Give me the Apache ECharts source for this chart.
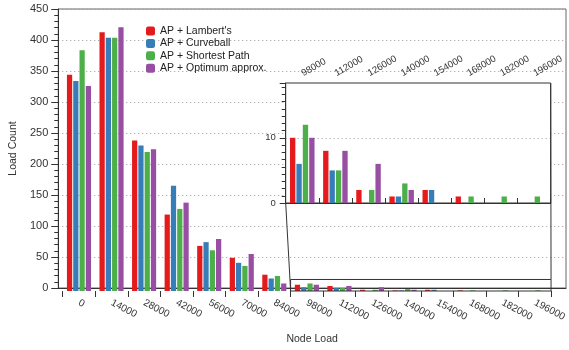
<!DOCTYPE html>
<html>
<head>
<meta charset="utf-8">
<script src="https://cdn.jsdelivr.net/npm/echarts@6/dist/echarts.min.js"></script>
<style>html,body{margin:0;padding:0;background:#fff}#c{width:569px;height:350px}</style>
</head>
<body>
<div id="c"></div>
<script>
const categories = ['0','14000','28000','42000','56000','70000','84000','98000','112000','126000','140000','154000','168000','182000','196000'];
const seriesNames = ["AP + Lambert's", 'AP + Curveball', 'AP + Shortest Path', 'AP + Optimum approx.'];
const lambert   = [345, 413, 240, 122, 72, 53, 26, 10, 8, 2, 1, 2, 1, 0, 0];
const curveball = [335, 404, 232, 168, 78, 45, 20, 6, 5, 0, 1, 2, 0, 0, 0];
const shortest  = [384, 404, 222, 131, 65, 40, 24, 12, 5, 2, 3, 0, 1, 1, 1];
const optimum   = [327, 421, 226, 141, 83, 59, 12, 10, 8, 6, 2, 0, 0, 0, 0];
const insetStart = 7;
const insetCategories = categories.slice(insetStart);
const mainMax = 450, mainInterval = 50;
const insetMax = 18.4, insetInterval = 10;
const colors = ['#e41a1c', '#377eb8', '#4daf4a', '#984ea3'];
const allData = [lambert, curveball, shortest, optimum];

const FONT = 'Liberation Sans, Arial, sans-serif';
const TXT = '#333';
const AX = '#333';
const GRIDLINE = {color: '#999', type: [1, 3], width: 1};

const chart = echarts.init(document.getElementById('c'), null, {renderer: 'canvas'});

const series = [];
allData.forEach((d, i) => {
  series.push({
    name: seriesNames[i], type: 'bar', xAxisIndex: 0, yAxisIndex: 0,
    data: d, itemStyle: {color: colors[i]},
    barCategoryGap: '26%', barGap: '20%', animation: false
  });
});
allData.forEach((d, i) => {
  series.push({
    name: seriesNames[i], type: 'bar', xAxisIndex: 2, yAxisIndex: 2,
    data: d.slice(insetStart), itemStyle: {color: colors[i]},
    barCategoryGap: '26%', barGap: '20%', z: 8, animation: false
  });
});

const option = {
  animation: false,
  color: colors,
  textStyle: {fontFamily: FONT},
  legend: {
    orient: 'vertical', left: 141, top: 20,
    icon: 'roundRect', itemWidth: 9, itemHeight: 9, itemGap: 0.4,
    textStyle: {fontFamily: FONT, fontSize: 10.5, color: '#222', lineHeight: 12},
    data: seriesNames
  },
  grid: [
    {left: 62.7, right: 10.7, top: 9, bottom: 59},
    {left: 55, right: 3, top: 9, bottom: 59, show: true, borderColor: '#666', borderWidth: 1, backgroundColor: 'transparent'},
    {left: 285.7, right: 18.3, top: 83, bottom: 147, show: true, borderColor: '#333', borderWidth: 1, backgroundColor: '#fff', z: 5}
  ],
  xAxis: [
    {
      type: 'category', gridIndex: 0, data: categories, boundaryGap: true,
      axisLine: {show: false},
      axisTick: {show: true, alignWithLabel: false, length: 6, lineStyle: {color: AX}},
      axisLabel: {interval: 0, rotate: -28, margin: 11, fontSize: 10, color: TXT, fontFamily: FONT},
      splitLine: {show: false}
    },
    {
      type: 'value', gridIndex: 1, min: 0, max: 1,
      axisLine: {show: true, lineStyle: {color: AX}},
      axisTick: {show: false}, axisLabel: {show: false}, splitLine: {show: false},
      name: 'Node Load', nameLocation: 'middle', nameGap: 46,
      nameTextStyle: {fontSize: 10.5, color: TXT, fontFamily: FONT}
    },
    {
      type: 'category', gridIndex: 2, data: insetCategories, position: 'top', boundaryGap: true, z: 6,
      axisLine: {show: true, lineStyle: {color: AX}},
      axisTick: {show: true, length: 5, lineStyle: {color: AX}},
      axisLabel: {interval: 0, rotate: 30, margin: 9, fontSize: 9.5, color: TXT, fontFamily: FONT},
      splitLine: {show: false}
    }
  ],
  yAxis: [
    {type: 'value', gridIndex: 0, min: 0, max: mainMax, interval: mainInterval, show: false},
    {
      type: 'value', gridIndex: 1, min: 0, max: mainMax, interval: mainInterval,
      axisLine: {show: true, lineStyle: {color: AX}},
      axisTick: {show: true, length: 7, lineStyle: {color: AX}},
      minorTick: {show: true, splitNumber: 5, length: 4, lineStyle: {color: AX}},
      axisLabel: {fontSize: 11, color: TXT, margin: 10, fontFamily: FONT},
      splitLine: {show: true, lineStyle: GRIDLINE},
      name: 'Load Count', nameLocation: 'middle', nameGap: 36,
      nameTextStyle: {fontSize: 10.5, color: TXT, fontFamily: FONT}
    },
    {
      type: 'value', gridIndex: 2, min: 0, max: insetMax, interval: insetInterval, z: 6,
      axisLine: {show: true, lineStyle: {color: AX}},
      axisTick: {show: true, length: 6, lineStyle: {color: AX}},
      minorTick: {show: true, splitNumber: 9, length: 4, lineStyle: {color: AX}},
      axisLabel: {fontSize: 9.5, color: TXT, margin: 10, fontFamily: FONT, showMaxLabel: false},
      splitLine: {show: true, lineStyle: GRIDLINE}
    }
  ],
  series: series
};
chart.setOption(option);

function px(axisIndex, cat) { return chart.convertToPixel({xAxisIndex: axisIndex}, cat); }
function py(axisIndex, v) { return chart.convertToPixel({yAxisIndex: axisIndex}, v); }
const bw = px(0, categories[insetStart + 1]) - px(0, categories[insetStart]);
const rx0 = px(0, categories[insetStart]) - bw / 2;
const rx1 = px(0, categories[categories.length - 1]) + bw / 2;
const ry0 = py(0, insetMax), ry1 = py(0, 0);
const bw2 = px(2, insetCategories[1]) - px(2, insetCategories[0]);
const ix0 = px(2, insetCategories[0]) - bw2 / 2;
const ix1 = px(2, insetCategories[insetCategories.length - 1]) + bw2 / 2;
const iy0 = py(2, insetMax), iy1 = py(2, 0);

chart.setOption({
  graphic: [
    {type: 'rect', z: 20, silent: true, shape: {x: rx0, y: ry0, width: rx1 - rx0, height: ry1 - ry0},
     style: {fill: 'none', stroke: '#333', lineWidth: 1}},
    {type: 'line', z: 20, silent: true, shape: {x1: ix0, y1: iy1, x2: rx0, y2: ry1},
     style: {stroke: '#333', lineWidth: 1}},
    {type: 'line', z: 20, silent: true, shape: {x1: ix1, y1: iy0, x2: rx1, y2: ry0},
     style: {stroke: '#333', lineWidth: 1}}
  ]
});
</script>
</body>
</html>
